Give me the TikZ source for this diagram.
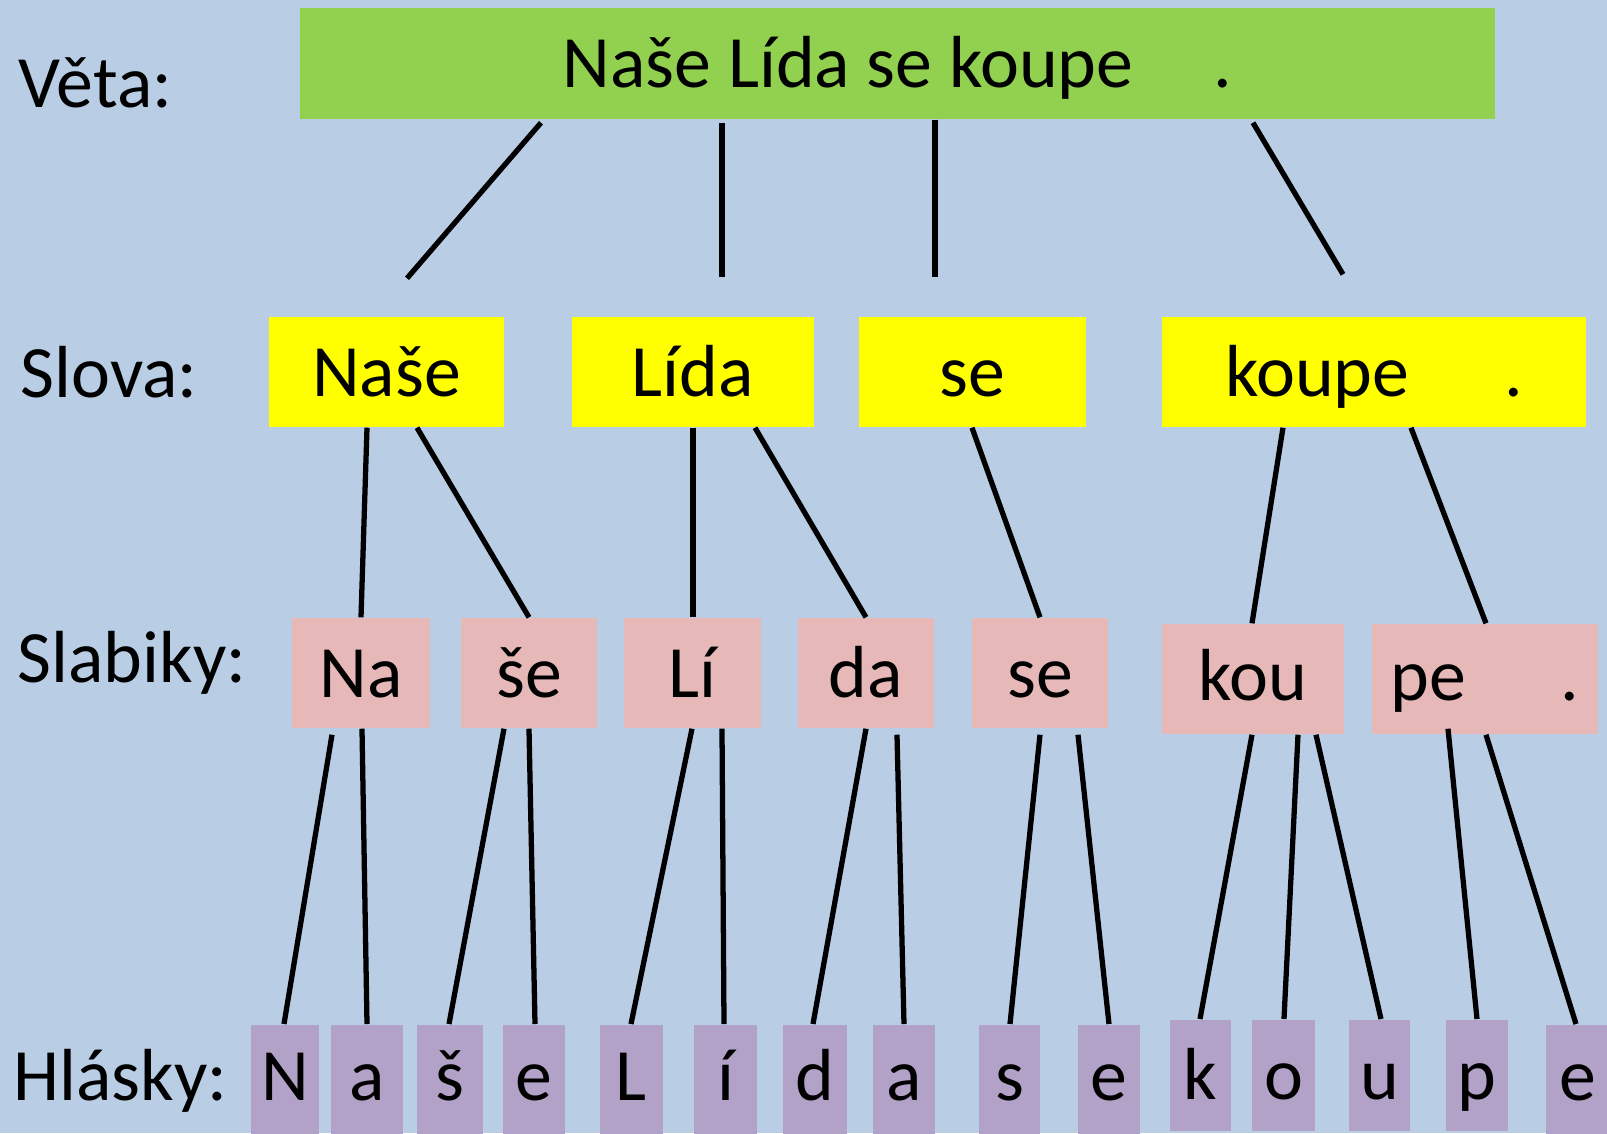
\documentclass[tikz,border=0pt]{standalone}
\usepackage{fontspec}
\setmainfont{Carlito}
\usetikzlibrary{calc}
\definecolor{bgblue}{HTML}{B9CDE5}
\definecolor{vetagreen}{HTML}{92D050}
\definecolor{slovoyellow}{HTML}{FFFF00}
\definecolor{slabpink}{HTML}{E6B9B8}
\definecolor{hlaspurple}{HTML}{B3A2C7}
\tikzset{
  txt/.style={inner sep=0pt, font=\fontsize{21}{25}\selectfont},
  level/.style={txt, anchor=base west},
  box/.style={txt, text height=0.6cm, text depth=0.12cm},
  vetabox/.style={box, fill=vetagreen, minimum width=11.95cm, minimum height=1.11cm},
  slovobox/.style={box, fill=slovoyellow, minimum height=1.10cm},
  slabbox/.style={box, fill=slabpink, minimum height=1.10cm},
  hlasbox/.style={box, fill=hlaspurple, anchor=north, minimum width=0.62cm, minimum height=1.11cm},
  tall/.style={minimum height=1.25cm, text depth=0.33cm},
  link/.style={line width=1.5pt, black}
}

\begin{document}
\begin{tikzpicture}
  \fill[bgblue] (0,0) rectangle (16.07,-11.33);
  \useasboundingbox (0,0) rectangle (16.07,-11.33);

  % urovne
  \node[level] (lveta) at (0.18,-1.07) {Věta:};
  \node[level] (lslova) at (0.20,-3.97) {Slova:};
  \node[level] (lslab) at (0.17,-6.82) {Slabiky:};
  \node[level] (lhlas) at (0.13,-11.00) {Hlásky:};

  % veta
  \node[vetabox] (veta) at (8.975,-0.635) {Naše Lída se koupe\hspace{0.8cm}.};

  % slova
  \node[slovobox, minimum width=2.35cm] (w1) at (3.865,-3.72) {Naše};
  \node[slovobox, minimum width=2.42cm] (w2) at (6.93,-3.72) {Lída};
  \node[slovobox, minimum width=2.27cm] (w3) at (9.725,-3.72) {se};
  \node[slovobox, minimum width=4.24cm] (w4) at (13.74,-3.72) {koupe\hspace{0.95cm}.};

  % slabiky
  \node[slabbox, minimum width=1.38cm] (s1) at (3.61,-6.73) {Na};
  \node[slabbox, minimum width=1.36cm] (s2) at (5.29,-6.73) {še};
  \node[slabbox, minimum width=1.37cm] (s3) at (6.925,-6.73) {Lí};
  \node[slabbox, minimum width=1.36cm] (s4) at (8.66,-6.73) {da};
  \node[slabbox, minimum width=1.36cm] (s5) at (10.40,-6.73) {se};
  \node[slabbox, minimum width=1.82cm, text depth=0.18cm] (s6) at (12.53,-6.79) {kou};
  \node[slabbox, minimum width=2.26cm, text depth=0.18cm] (s7) at (14.85,-6.79) {pe\hspace{0.95cm}.};

  % hlasky
  \node[hlasbox, tall, minimum width=0.68cm] (p1) at (2.85,-10.24) {N};
  \node[hlasbox, tall, minimum width=0.72cm] (p2) at (3.67,-10.24) {a};
  \node[hlasbox, tall, minimum width=0.66cm] (p3) at (4.50,-10.24) {š};
  \node[hlasbox, tall] (p4) at (5.34,-10.24) {e};
  \node[hlasbox, tall, minimum width=0.63cm] (p5) at (6.315,-10.24) {L};
  \node[hlasbox, tall, minimum width=0.63cm] (p6) at (7.255,-10.24) {í};
  \node[hlasbox, tall, minimum width=0.64cm] (p7) at (8.15,-10.24) {d};
  \node[hlasbox, tall] (p8) at (9.04,-10.24) {a};
  \node[hlasbox, tall, minimum width=0.61cm] (p9) at (10.095,-10.24) {s};
  \node[hlasbox, tall] (p10) at (11.09,-10.24) {e};
  \node[hlasbox, minimum width=0.61cm] (p11) at (12.005,-10.19) {k};
  \node[hlasbox, minimum width=0.63cm] (p12) at (12.835,-10.19) {o};
  \node[hlasbox, minimum width=0.61cm] (p13) at (13.795,-10.19) {u};
  \node[hlasbox] (p14) at (14.77,-10.19) {p};
  \node[hlasbox, tall, minimum width=0.64cm] (p15) at (15.78,-10.24) {e};

  % veta -> slova
  \draw[link] ($(veta.south -| 5.41,0)+(0,-0.03)$) -- ($(w1.north -| 4.07,0)+(0,0.38)$);
  \draw[link] ($(veta.south -| 7.22,0)+(0,-0.03)$) -- ($(w2.north -| 7.22,0)+(0,0.39)$);
  \draw[link] (veta.south -| 9.35,0) -- ($(w3.north -| 9.35,0)+(0,0.39)$);
  \draw[link] ($(veta.south -| 12.53,0)+(0,-0.03)$) -- ($(w4.north -| 13.43,0)+(0,0.42)$);

  % slova -> slabiky
  \draw[link] (w1.south -| 3.67,0) -- (s1.north -| 3.61,0);
  \draw[link] (w1.south -| 4.17,0) -- (s2.north -| 5.29,0);
  \draw[link] (w2.south -| 6.93,0) -- (s3.north -| 6.93,0);
  \draw[link] (w2.south -| 7.55,0) -- (s4.north -| 8.66,0);
  \draw[link] (w3.south -| 9.72,0) -- (s5.north -| 10.40,0);
  \draw[link] (w4.south -| 12.83,0) -- (s6.north -| 12.52,0);
  \draw[link] (w4.south -| 14.11,0) -- (s7.north -| 14.86,0);

  % slabiky -> hlasky
  \draw[link] ($(s1.south -| 3.32,0)+(0,-0.06)$) -- (p1.north -| 2.84,0);
  \draw[link] (s1.south -| 3.62,0) -- (p2.north -| 3.67,0);
  \draw[link] (s2.south -| 5.04,0) -- (p3.north -| 4.49,0);
  \draw[link] (s2.south -| 5.29,0) -- (p4.north -| 5.35,0);
  \draw[link] (s3.south -| 6.92,0) -- (p5.north -| 6.31,0);
  \draw[link] (s3.south -| 7.22,0) -- (p6.north -| 7.24,0);
  \draw[link] (s4.south -| 8.66,0) -- (p7.north -| 8.13,0);
  \draw[link] ($(s4.south -| 8.97,0)+(0,-0.06)$) -- (p8.north -| 9.04,0);
  \draw[link] ($(s5.south -| 10.40,0)+(0,-0.06)$) -- (p9.north -| 10.10,0);
  \draw[link] ($(s5.south -| 10.78,0)+(0,-0.06)$) -- (p10.north -| 11.09,0);
  \draw[link] (s6.south -| 12.52,0) -- (p11.north -| 12.00,0);
  \draw[link] (s6.south -| 12.98,0) -- (p12.north -| 12.84,0);
  \draw[link] (s6.south -| 13.16,0) -- (p13.north -| 13.81,0);
  \draw[link] ($(s7.south -| 14.48,0)+(0,0.06)$) -- (p14.north -| 14.77,0);
  \draw[link] (s7.south -| 14.86,0) -- (p15.north -| 15.76,0);
\end{tikzpicture}
\end{document}
